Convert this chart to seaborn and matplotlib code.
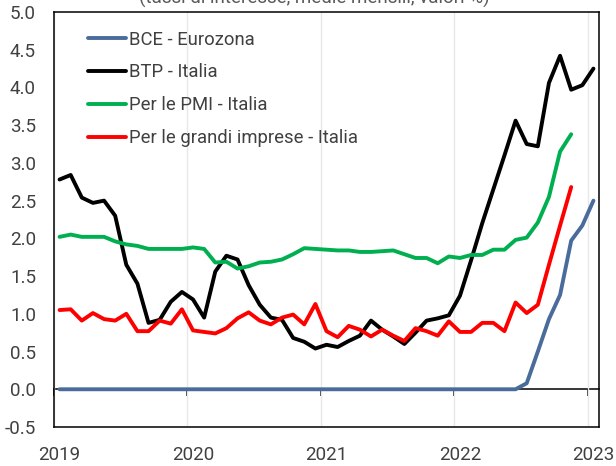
import numpy as np
import pandas as pd
import matplotlib
matplotlib.use("Agg")
import matplotlib.pyplot as plt
import seaborn as sns

# ---------------- data (monthly, Jan 2019 - Jan 2023) ----------------
months = pd.date_range("2019-01-01", "2023-01-01", freq="MS")
year_labels = ["2019", "2020", "2021", "2022", "2023"]

bce = [0.00, 0.00, 0.00, 0.00, 0.00, 0.00, 0.00, 0.00, 0.00, 0.00, 0.00, 0.00,
       0.00, 0.00, 0.00, 0.00, 0.00, 0.00, 0.00, 0.00, 0.00, 0.00, 0.00, 0.00,
       0.00, 0.00, 0.00, 0.00, 0.00, 0.00, 0.00, 0.00, 0.00, 0.00, 0.00, 0.00,
       0.00, 0.00, 0.00, 0.00, 0.00, 0.00, 0.08, 0.50, 0.93, 1.25, 1.97, 2.17,
       2.50]
btp = [2.78, 2.84, 2.54, 2.47, 2.50, 2.30, 1.65, 1.40, 0.88, 0.92, 1.16, 1.29,
       1.19, 0.95, 1.56, 1.77, 1.72, 1.38, 1.12, 0.95, 0.92, 0.68, 0.63, 0.54,
       0.59, 0.56, 0.64, 0.71, 0.91, 0.79, 0.70, 0.60, 0.75, 0.91, 0.94, 0.98,
       1.24, 1.71, 2.20, 2.65, 3.10, 3.56, 3.25, 3.22, 4.06, 4.42, 3.97, 4.03,
       4.25]
pmi = [2.02, 2.05, 2.02, 2.02, 2.02, 1.96, 1.92, 1.90, 1.86, 1.86, 1.86, 1.86,
       1.88, 1.86, 1.68, 1.69, 1.60, 1.63, 1.68, 1.69, 1.72, 1.79, 1.87, 1.86,
       1.85, 1.84, 1.84, 1.82, 1.82, 1.83, 1.84, 1.79, 1.74, 1.74, 1.67, 1.76,
       1.74, 1.78, 1.78, 1.85, 1.85, 1.98, 2.01, 2.21, 2.55, 3.15, 3.38]
grandi = [1.05, 1.06, 0.91, 1.01, 0.93, 0.91, 1.00, 0.77, 0.77, 0.91, 0.87, 1.06,
          0.78, 0.76, 0.74, 0.81, 0.94, 1.02, 0.91, 0.86, 0.95, 0.99, 0.86, 1.13,
          0.77, 0.69, 0.84, 0.79, 0.70, 0.79, 0.71, 0.64, 0.81, 0.77, 0.71, 0.90,
          0.76, 0.76, 0.88, 0.88, 0.77, 1.15, 1.01, 1.12, 1.65, 2.17, 2.68]

series_names = ["BCE - Eurozona", "BTP - Italia", "Per le PMI - Italia",
                "Per le grandi imprese - Italia"]
series_values = [bce, btp, pmi, grandi]
colors = ["#4A6C9B", "#000000", "#00B050", "#FF0000"]
title_text = "(tassi di interesse, medie mensili, valori %)"

# ---------------- long-form table ----------------
rows = []
for name, vals in zip(series_names, series_values):
    for i, v in enumerate(vals):
        rows.append({"serie": name, "pos": i + 0.5, "data": months[i], "valore": v})
df = pd.DataFrame(rows)

# ---------------- style ----------------
sns.set_theme(style="white")
plt.rcParams["font.family"] = ["Roboto", "DejaVu Sans"]
text_col = "#404040"

fig = plt.figure(figsize=(6.16, 4.66), dpi=100)
ax = fig.add_axes([54 / 616, 1 - 427 / 466, 545 / 616, 415 / 466])

sns.lineplot(data=df, x="pos", y="valore", hue="serie", hue_order=series_names,
             palette=dict(zip(series_names, colors)), linewidth=2.8, sort=False,
             ax=ax, legend=True)

n_months = len(months)
ax.set_xlim(0, n_months)
ax.set_ylim(-0.5, 5.0)
ax.set_yticks(np.arange(-0.5, 5.01, 0.5))
ax.set_yticklabels([f"{v:.1f}" for v in np.arange(-0.5, 5.01, 0.5)])

year_bounds = [12 * k for k in range(len(year_labels))]
ax.set_xticks(year_bounds)
ax.set_xticklabels([])
ax.set_xticks([b + 0.5 for b in year_bounds], year_labels, minor=True)
ax.tick_params(axis="x", which="both", length=0, pad=14, labelsize=13.5,
               labelcolor=text_col)
ax.tick_params(axis="y", length=0, pad=13, labelsize=13.5, labelcolor=text_col)
ax.set_xlabel("")
ax.set_ylabel("")

ax.grid(False)
ax.grid(axis="x", which="major", color="#E8E8E8", linewidth=1.0)
ax.set_axisbelow(True)
for sp in ax.spines.values():
    sp.set_color("black")
    sp.set_linewidth(1.1)

# horizontal axis line at zero with yearly tick marks
ylo, yhi = ax.get_ylim()
sec = ax.secondary_xaxis((0 - ylo) / (yhi - ylo))
sec.set_xticks(year_bounds)
sec.set_xticklabels([])
sec.tick_params(axis="x", direction="out", length=5, width=1.1, color="black")
sec.spines["bottom"].set_color("black")
sec.spines["bottom"].set_linewidth(1.1)

# legend
handles, labels = ax.get_legend_handles_labels()
leg = ax.legend(handles, labels, loc="upper left", bbox_to_anchor=(0.062, 0.955),
                frameon=False, fontsize=13.3, handlelength=2.05, handletextpad=0.2,
                labelspacing=0.8, borderaxespad=0, borderpad=0)
for t in leg.get_texts():
    t.set_color(text_col)
for h in leg.get_lines():
    h.set_linewidth(2.8)

# partially visible subtitle at the very top (cut by the figure edge, as in the source)
fig.text(0.51, 1.0 + 1.5 / 466, title_text, ha="center", va="center", fontsize=13.5,
         color="#595959")

fig.savefig("out.png", dpi=100)
